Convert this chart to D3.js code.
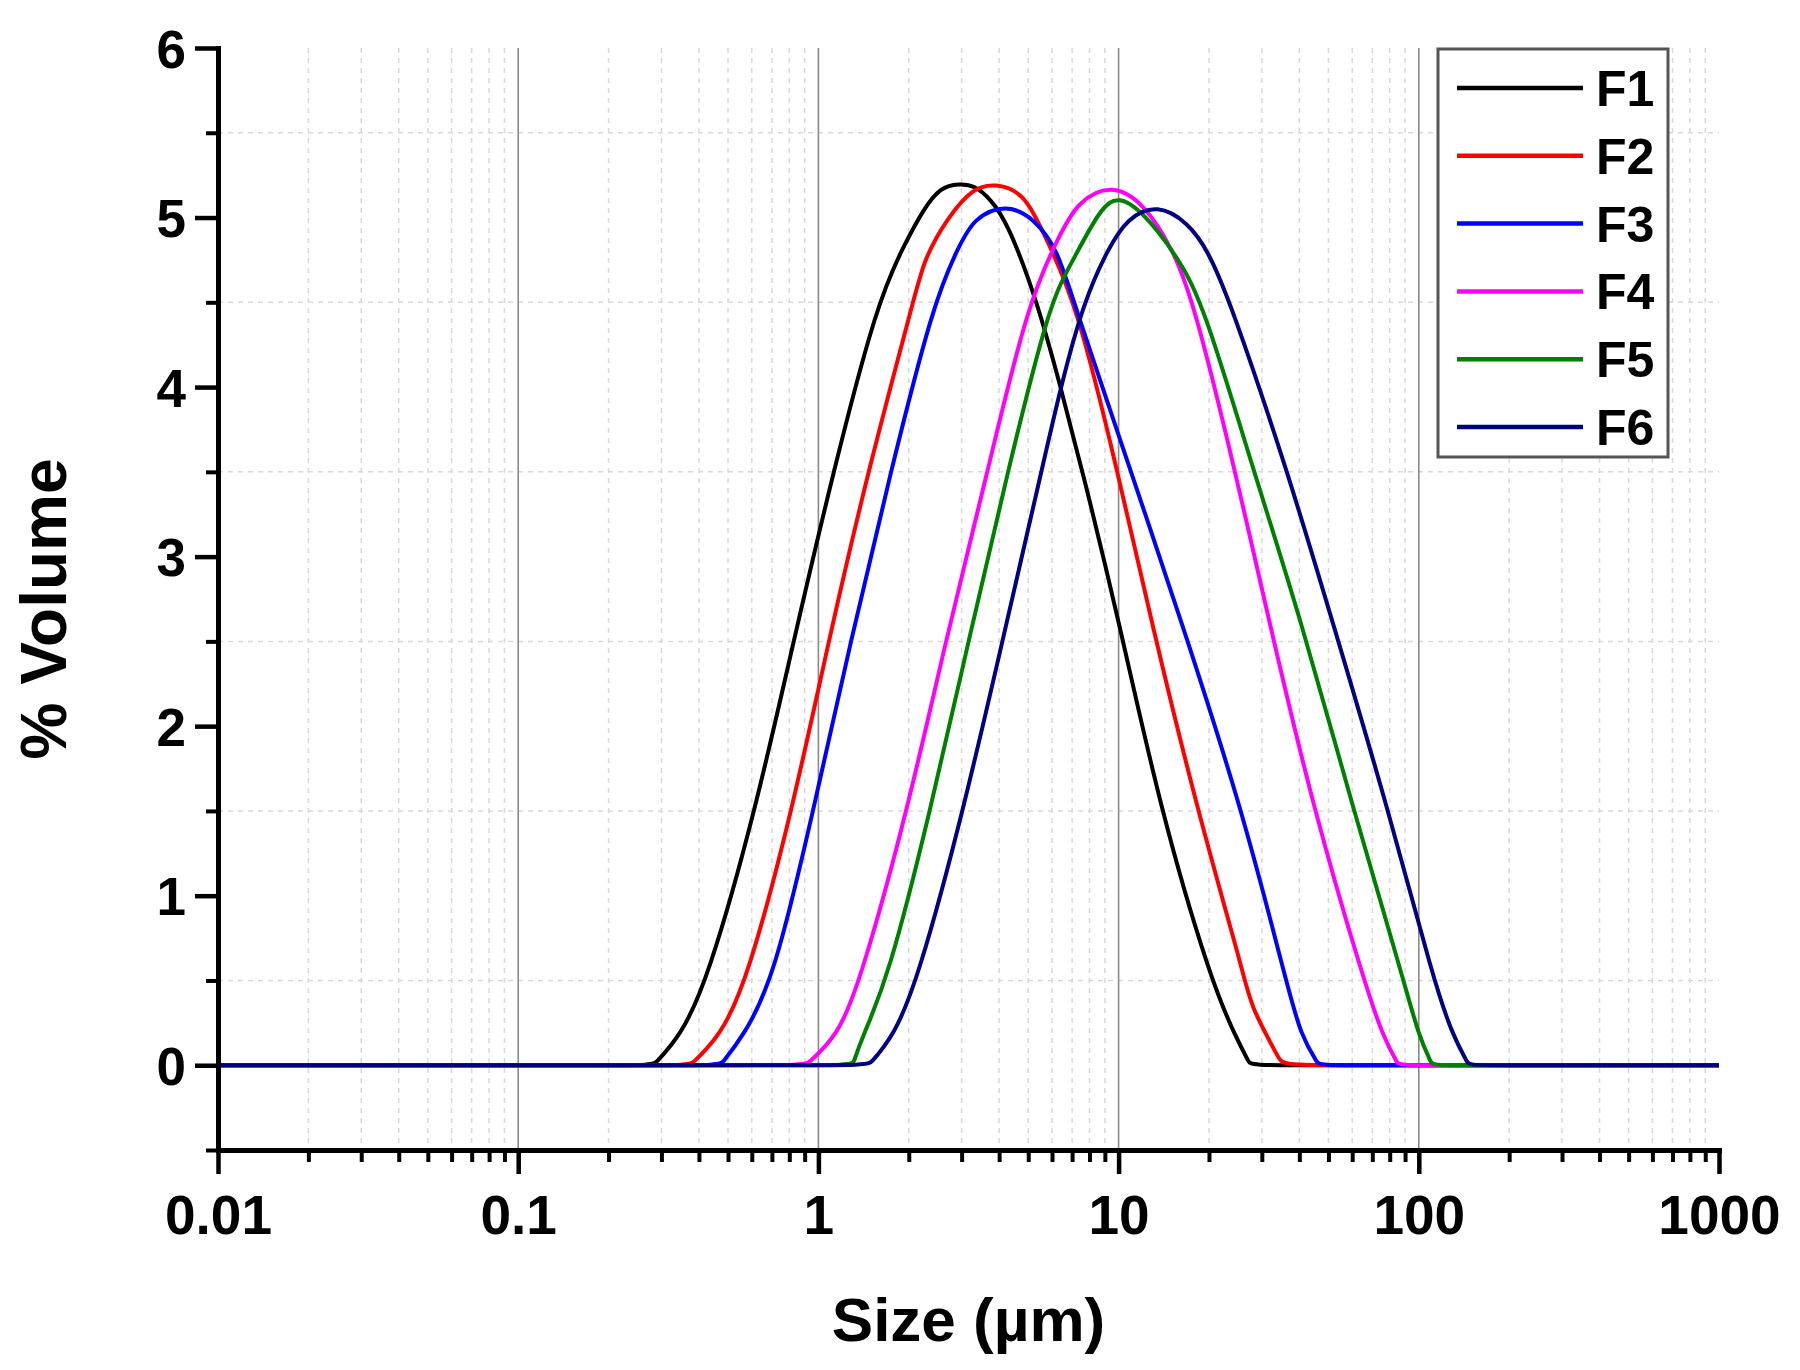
<!DOCTYPE html>
<html>
<head>
<meta charset="utf-8">
<script src="https://cdn.jsdelivr.net/npm/d3@7"></script>
<style>
  html, body { margin: 0; padding: 0; background: #fff; }
  svg { display: block; }
  text { font-family: "Liberation Sans", Arial, sans-serif; font-weight: bold; fill: #000; }
</style>
</head>
<body>
<svg id="chart" width="1800" height="1370"></svg>
<script>
// ---------------- data ----------------
const seriesNames = ["F1", "F2", "F3", "F4", "F5", "F6"];
const seriesColors = ["#000000", "#ff0000", "#0000ff", "#ff00ff", "#008000", "#000080"];

const f1Size = [0.282, 0.347, 0.427, 0.617, 0.826, 1.12, 1.57, 1.92, 2.24, 2.55, 2.95, 3.31, 3.74, 4.27, 5.37, 6.41, 7.59, 10, 13.8, 20.3, 24.5, 27.5];
const f1Vol  = [0, 0.17, 0.5, 1.5, 2.5, 3.5, 4.5, 4.83, 5.05, 5.18, 5.2, 5.19, 5.11, 4.97, 4.5, 4.0, 3.5, 2.63, 1.5, 0.5, 0.17, 0];

const f2Size = [0.374, 0.471, 0.579, 0.818, 1.08, 1.46, 2.07, 2.24, 2.69, 3.29, 3.89, 4.82, 5.62, 7.24, 9.93, 12.8, 18.3, 26.5, 27.5, 35.2];
const f2Vol  = [0, 0.17, 0.5, 1.5, 2.5, 3.5, 4.5, 4.75, 5.0, 5.18, 5.2, 5.15, 4.91, 4.5, 3.5, 2.63, 1.5, 0.5, 0.35, 0];

const f3Size = [0.471, 0.562, 0.708, 0.962, 1.28, 1.74, 2.42, 2.90, 3.29, 4.22, 5.21, 6.27, 7.08, 11.0, 16.1, 25.9, 36.1, 40.5, 46.5];
const f3Vol  = [0, 0.17, 0.5, 1.5, 2.5, 3.5, 4.5, 4.81, 5.0, 5.08, 5.0, 4.81, 4.5, 3.5, 2.63, 1.5, 0.5, 0.17, 0];

const f4Size = [0.906, 1.16, 1.38, 1.98, 2.65, 3.66, 4.98, 6.41, 7.29, 9.40, 12.1, 15.2, 17.8, 24.5, 31.6, 44.7, 65.6, 75.9, 85.7];
const f4Vol  = [0, 0.17, 0.5, 1.5, 2.5, 3.5, 4.5, 4.91, 5.09, 5.2, 5.09, 4.81, 4.5, 3.5, 2.63, 1.5, 0.5, 0.17, 0];

const f5Size = [1.30, 1.40, 1.70, 2.36, 3.16, 4.27, 5.89, 6.92, 8.71, 10.0, 12.1, 15.7, 19.1, 28.2, 40.5, 60.7, 89.1, 100, 111];
const f5Vol  = [0, 0.17, 0.5, 1.5, 2.5, 3.5, 4.5, 4.72, 5.06, 5.13, 5.03, 4.77, 4.5, 3.5, 2.63, 1.5, 0.5, 0.17, 0];

const f6Size = [1.47, 1.78, 2.14, 3.04, 4.10, 5.53, 6.41, 7.64, 9.18, 10.7, 13.5, 17.0, 19.8, 23.6, 36.6, 51.3, 79.4, 112, 130, 147];
const f6Vol  = [0, 0.17, 0.5, 1.5, 2.5, 3.5, 4.0, 4.5, 4.81, 5.0, 5.08, 4.97, 4.81, 4.5, 3.5, 2.63, 1.5, 0.5, 0.17, 0];

const sizeTicks = [0.01, 0.1, 1, 10, 100, 1000];
const sizeTickLabels = ["0.01", "0.1", "1", "10", "100", "1000"];
const volTicks = [0, 1, 2, 3, 4, 5, 6];
const volTickLabels = ["0", "1", "2", "3", "4", "5", "6"];
const xTitle = "Size (µm)";
const yTitle = "% Volume";

// ---------------- chart ----------------
const svg = d3.select("#chart");
const x = d3.scaleLog().domain([0.01, 1000]).range([218, 1719]);
const y = d3.scaleLinear().domain([-0.5, 6]).range([1150, 48]);

const sizes = [f1Size, f2Size, f3Size, f4Size, f5Size, f6Size];
const vols = [f1Vol, f2Vol, f3Vol, f4Vol, f5Vol, f6Vol];

// minor x values 2..9 of each decade
const minorX = [];
for (let d = -2; d < 3; d++) for (let k = 2; k <= 9; k++) minorX.push(k * Math.pow(10, d));
const minorY = d3.range(-0.5, 6, 1);

// grid
const grid = svg.append("g");
grid.selectAll("line.mx").data(minorX).join("line")
  .attr("x1", d => x(d)).attr("x2", d => x(d))
  .attr("y1", y(6)).attr("y2", y(-0.5))
  .attr("stroke", "#d9d9d9").attr("stroke-width", 1.5).attr("stroke-dasharray", "5,5");
grid.selectAll("line.my").data(minorY.filter(v => v > -0.5)).join("line")
  .attr("x1", x(0.01)).attr("x2", x(1000))
  .attr("y1", d => y(d)).attr("y2", d => y(d))
  .attr("stroke", "#d9d9d9").attr("stroke-width", 1.5).attr("stroke-dasharray", "5,5");
grid.selectAll("line.Mx").data(sizeTicks.slice(1, -1)).join("line")
  .attr("x1", d => x(d)).attr("x2", d => x(d))
  .attr("y1", y(6)).attr("y2", y(-0.5))
  .attr("stroke", "#8a8a8a").attr("stroke-width", 1.6);

// curves
const line = d3.line().x(d => x(d[0])).y(d => y(d[1])).curve(d3.curveBasis);
seriesNames.forEach((name, i) => {
  const pts = [[x.domain()[0], 0], [sizes[i][0], 0]]
    .concat(sizes[i].map((s, j) => [s, vols[i][j]]))
    .concat([[sizes[i][sizes[i].length - 1], 0], [x.domain()[1], 0]]);
  svg.append("path").datum(pts)
    .attr("d", line)
    .attr("fill", "none")
    .attr("stroke", seriesColors[i])
    .attr("stroke-width", 4)
    .attr("stroke-linejoin", "round");
});

// axes
const axStyle = (g, w) => {
  g.select(".domain").attr("stroke", "#000").attr("stroke-width", 5).attr("stroke-linecap", "square");
  g.selectAll(".tick line").attr("stroke", "#000").attr("stroke-width", w);
};

const xMinorAxis = svg.append("g").attr("transform", `translate(0,${y(-0.5)})`)
  .call(d3.axisBottom(x).tickValues(minorX).tickSize(12).tickSizeOuter(0).tickFormat(""));
axStyle(xMinorAxis, 4);
xMinorAxis.select(".domain").remove();

const xAxis = svg.append("g").attr("transform", `translate(0,${y(-0.5)})`)
  .call(d3.axisBottom(x).tickValues(sizeTicks).tickSize(24).tickSizeOuter(0)
    .tickFormat((d, i) => sizeTickLabels[i]));
axStyle(xAxis, 4.5);
xAxis.selectAll(".tick text").attr("y", 0).attr("dy", 84)
  .style("font-size", "55px").style("font-family", "'Liberation Sans', Arial, sans-serif").style("font-weight", "bold").attr("fill", "#000");

const yMinorAxis = svg.append("g").attr("transform", `translate(${x(0.01)},0)`)
  .call(d3.axisLeft(y).tickValues(minorY).tickSize(12).tickSizeOuter(0).tickFormat(""));
axStyle(yMinorAxis, 4);
yMinorAxis.select(".domain").remove();

const yAxis = svg.append("g").attr("transform", `translate(${x(0.01)},0)`)
  .call(d3.axisLeft(y).tickValues(volTicks).tickSize(23).tickSizeOuter(0)
    .tickFormat((d, i) => volTickLabels[i]));
axStyle(yAxis, 4.5);
yAxis.selectAll(".tick text").attr("x", -32).attr("dy", "0.36em")
  .style("font-size", "53px").style("font-family", "'Liberation Sans', Arial, sans-serif").style("font-weight", "bold").attr("fill", "#000");

// axis titles
svg.append("text").attr("x", (x(0.01) + x(1000)) / 2).attr("y", 1341)
  .attr("text-anchor", "middle").style("font-size", "62px").text(xTitle);
svg.append("text").attr("transform", `translate(66,${(y(6) + y(-0.5)) / 2 + 10}) rotate(-90)`)
  .attr("text-anchor", "middle").style("font-size", "64px").text(yTitle);

// legend
const legend = svg.append("g");
legend.append("rect").attr("x", 1438).attr("y", 49).attr("width", 230).attr("height", 408)
  .attr("fill", "#fff").attr("stroke", "#555").attr("stroke-width", 3);
seriesNames.forEach((name, i) => {
  const ly = 88 + i * 67.8;
  legend.append("line").attr("x1", 1457).attr("x2", 1583).attr("y1", ly).attr("y2", ly)
    .attr("stroke", seriesColors[i]).attr("stroke-width", 4.5);
  legend.append("text").attr("x", 1596).attr("y", ly).attr("dy", "0.36em")
    .style("font-size", "50px").text(name);
});
</script>
</body>
</html>
